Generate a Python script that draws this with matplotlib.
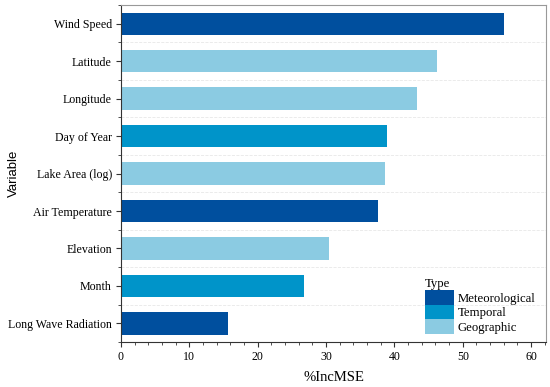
import matplotlib.pyplot as plt
from matplotlib.patches import Patch
from matplotlib.ticker import MultipleLocator

# Data (top to bottom as in the chart)
variables = ["Wind Speed", "Latitude", "Longitude", "Day of Year", "Lake Area (log)",
             "Air Temperature", "Elevation", "Month", "Long Wave Radiation"]
inc_mse = [56.1, 46.2, 43.3, 38.9, 38.6, 37.6, 30.4, 26.7, 15.7]
var_type = ["Meteorological", "Geographic", "Geographic", "Temporal", "Geographic",
            "Meteorological", "Geographic", "Temporal", "Meteorological"]
type_order = ["Meteorological", "Temporal", "Geographic"]
type_colors = {"Meteorological": "#004f9e", "Temporal": "#0094c9", "Geographic": "#8bcbe2"}

serif = "Liberation Serif"

fig = plt.figure(figsize=(5.5, 3.87), dpi=100)
ax = fig.add_axes([0.22, 0.116, 0.773, 0.871])

ypos = list(range(len(variables)))[::-1]
ax.barh(ypos, inc_mse, height=0.6, color=[type_colors[t] for t in var_type], zorder=2)

ax.set_xlim(0, 62.2)
ax.set_ylim(-0.5, len(variables) - 0.5)
ax.set_yticks(ypos)
ax.set_yticklabels(variables, fontfamily=serif, fontsize=8.6)
ax.yaxis.set_minor_locator(MultipleLocator(1, offset=0.5))
ax.xaxis.set_major_locator(MultipleLocator(10))
ax.xaxis.set_minor_locator(MultipleLocator(2))
for lab in ax.get_xticklabels():
    lab.set_fontfamily(serif)
    lab.set_fontsize(8.6)

ax.grid(axis="y", which="minor", color="#e8e8e8", linestyle="--", linewidth=0.6, zorder=0)
ax.tick_params(axis="both", which="major", length=3.5, width=0.8, color="#333333", pad=3)
ax.tick_params(axis="both", which="minor", length=2, width=0.6, color="#333333")

for side in ["top", "right"]:
    ax.spines[side].set_color("#999999")
for side in ["left", "bottom"]:
    ax.spines[side].set_color("#333333")

ax.set_xlabel("%IncMSE", fontfamily=serif, fontsize=10.5, labelpad=6)
ax.set_ylabel("Variable", fontfamily="Liberation Sans", fontsize=9.5)
ax.yaxis.set_label_coords(-0.238, 0.5)

handles = [Patch(facecolor=type_colors[t], label=t) for t in type_order]
leg = ax.legend(handles=handles, title="Type", loc="lower right", frameon=False,
                bbox_to_anchor=(0.995, 0.0), handlelength=2.3, handleheight=1.35,
                handletextpad=0.3, labelspacing=0.0, borderaxespad=0.25,
                prop={"family": serif, "size": 9.2},
                title_fontproperties={"family": serif, "size": 9.2})
leg._legend_box.align = "left"

fig.savefig("out.png", dpi=100)
